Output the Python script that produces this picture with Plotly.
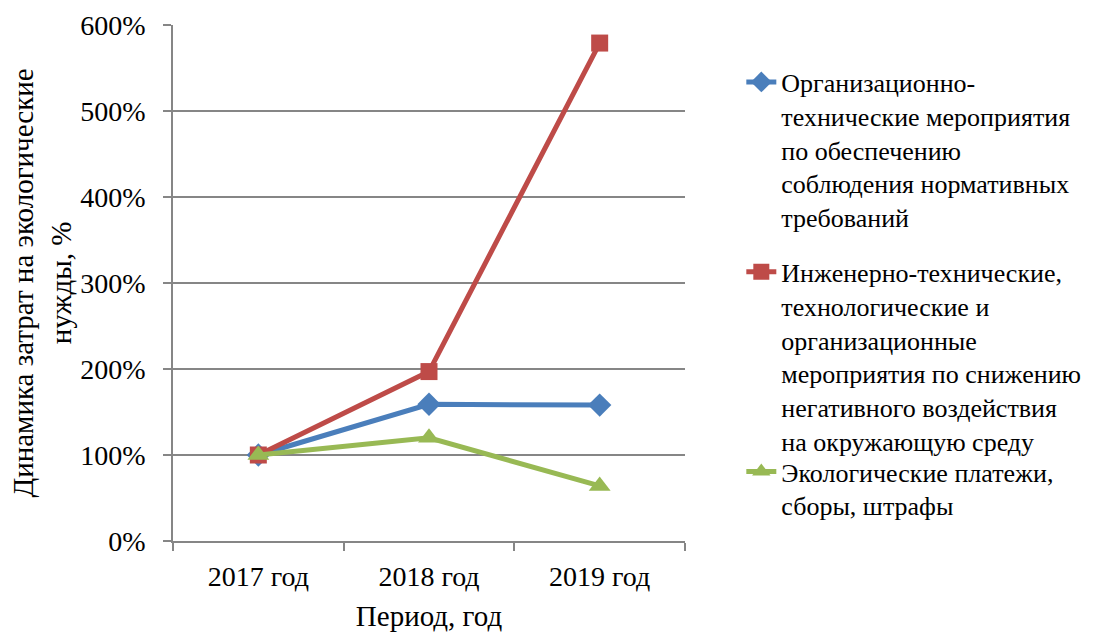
import plotly.graph_objects as go

# Cost dynamics by year, percent of the 2017 level
years = ["2017 год", "2018 год", "2019 год"]
org_tech = [100, 159, 158]
eng_tech = [100, 197, 579]
eco_fees = [100, 120, 64]

names = [
    "Организационно-<br>технические мероприятия<br>по обеспечению<br>соблюдения нормативных<br>требований",
    "Инженерно-технические,<br>технологические и<br>организационные<br>мероприятия по снижению<br>негативного воздействия<br>на окружающую среду",
    "Экологические платежи,<br>сборы, штрафы",
]
colors = ["#4A7EBB", "#BE4B48", "#98B954"]
symbols = ["diamond", "square", "triangle-up"]
sizes = [18, 17, 19]
series = [org_tech, eng_tech, eco_fees]
legend_ids = ["legend", "legend2", "legend3"]

FONT = "Liberation Serif"
TICK_FS = 28
TITLE_FS = 29
LEG_FS = 26
AXIS_COL = "#868686"

fig = go.Figure()
for name, vals, col, sym, sz, lg in zip(names, series, colors, symbols, sizes, legend_ids):
    fig.add_trace(go.Scatter(
        x=years, y=vals, name=name, mode="lines+markers",
        line=dict(color=col, width=5),
        marker=dict(symbol=sym, size=sz, color=col),
        legend=lg, showlegend=True,
    ))

legend_common = dict(
    font=dict(family=FONT, size=LEG_FS, color="black"),
    bgcolor="rgba(0,0,0,0)", xanchor="left", yanchor="top",
    itemwidth=30, valign="top",
)

fig.update_layout(
    width=1104, height=633,
    margin=dict(l=173, r=419, t=25, b=92, autoexpand=False),
    paper_bgcolor="white", plot_bgcolor="white",
    font=dict(family=FONT, size=TICK_FS, color="black"),
    showlegend=True,
    legend=dict(x=1.11, y=0.935, **legend_common),
    legend2=dict(x=1.11, y=0.567, **legend_common),
    legend3=dict(x=1.11, y=0.18, **legend_common),
    xaxis=dict(
        type="category", range=[-0.5, 2.5], automargin=False,
        tickson="boundaries", ticks="outside", ticklen=8,
        tickcolor=AXIS_COL, tickwidth=1.5,
        showline=True, linecolor=AXIS_COL, linewidth=1.5,
        showgrid=False, ticklabelstandoff=10,
        tickfont=dict(family=FONT, size=TICK_FS, color="black"),
        title=dict(text="Период, год", font=dict(family=FONT, size=TITLE_FS, color="black"), standoff=14),
    ),
    yaxis=dict(
        range=[0, 600], dtick=100, ticksuffix="%", automargin=False,
        ticks="outside", ticklen=8, tickcolor=AXIS_COL, tickwidth=1.5,
        showline=True, linecolor=AXIS_COL, linewidth=1.5,
        showgrid=True, gridcolor=AXIS_COL, gridwidth=1.8,
        zeroline=False, ticklabelstandoff=12,
        tickfont=dict(family=FONT, size=TICK_FS, color="black"),
        title=dict(text="Динамика затрат на экологические<br>нужды, %",
                   font=dict(family=FONT, size=TITLE_FS, color="black"), standoff=0),
    ),
)

fig.write_html("out.html")
